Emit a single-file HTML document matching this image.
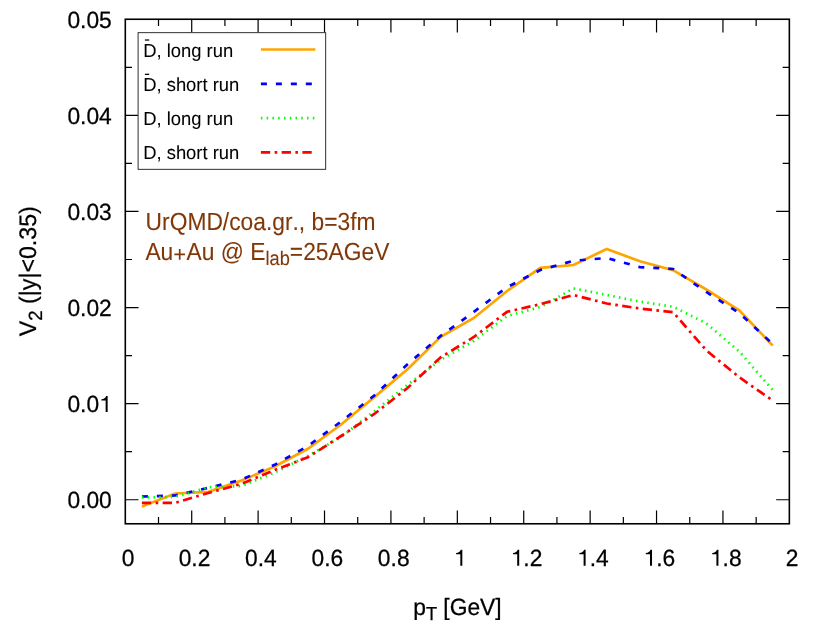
<!DOCTYPE html>
<html><head><meta charset="utf-8"><title>v2 vs pT</title>
<style>
html,body{margin:0;padding:0;background:#fff;}
body{width:830px;height:623px;overflow:hidden;}
svg{display:block;will-change:transform;transform:translateZ(0);}
text{font-family:"Liberation Sans",sans-serif;font-kerning:none;text-rendering:geometricPrecision;stroke-width:0.25px;}
</style></head><body>
<svg width="830" height="623" viewBox="0 0 830 623">
<rect x="0" y="0" width="830" height="623" fill="#ffffff"/>
<g stroke="#000" stroke-width="1.2" fill="none">
<path d="M158.50,523.78V517.08M158.50,19.25V25.95"/>
<path d="M191.71,523.78V510.58M191.71,19.25V32.45"/>
<path d="M224.91,523.78V517.08M224.91,19.25V25.95"/>
<path d="M258.11,523.78V510.58M258.11,19.25V32.45"/>
<path d="M291.31,523.78V517.08M291.31,19.25V25.95"/>
<path d="M324.52,523.78V510.58M324.52,19.25V32.45"/>
<path d="M357.72,523.78V517.08M357.72,19.25V25.95"/>
<path d="M390.92,523.78V510.58M390.92,19.25V32.45"/>
<path d="M424.12,523.78V517.08M424.12,19.25V25.95"/>
<path d="M457.33,523.78V510.58M457.33,19.25V32.45"/>
<path d="M490.53,523.78V517.08M490.53,19.25V25.95"/>
<path d="M523.73,523.78V510.58M523.73,19.25V32.45"/>
<path d="M556.93,523.78V517.08M556.93,19.25V25.95"/>
<path d="M590.14,523.78V510.58M590.14,19.25V32.45"/>
<path d="M623.34,523.78V517.08M623.34,19.25V25.95"/>
<path d="M656.54,523.78V510.58M656.54,19.25V32.45"/>
<path d="M689.74,523.78V517.08M689.74,19.25V25.95"/>
<path d="M722.95,523.78V510.58M722.95,19.25V32.45"/>
<path d="M756.15,523.78V517.08M756.15,19.25V25.95"/>
<path d="M125.3,499.75H138.50M789.35,499.75H776.15"/>
<path d="M125.3,451.70H132.00M789.35,451.70H782.65"/>
<path d="M125.3,403.65H138.50M789.35,403.65H776.15"/>
<path d="M125.3,355.60H132.00M789.35,355.60H782.65"/>
<path d="M125.3,307.55H138.50M789.35,307.55H776.15"/>
<path d="M125.3,259.50H132.00M789.35,259.50H782.65"/>
<path d="M125.3,211.45H138.50M789.35,211.45H776.15"/>
<path d="M125.3,163.40H132.00M789.35,163.40H782.65"/>
<path d="M125.3,115.35H138.50M789.35,115.35H776.15"/>
<path d="M125.3,67.30H132.00M789.35,67.30H782.65"/>
</g>
<g fill="none" stroke-width="2.7" stroke-linejoin="miter" stroke-linecap="butt">
<polyline stroke="#ffa500" points="141.9,506.5 175.1,493.5 208.3,491.8 241.5,480.5 274.7,466.5 307.9,448.8 341.1,424.5 374.3,397.1 407.5,369.2 440.7,336.8 473.9,318.0 507.1,291.0 540.3,267.8 573.5,265.0 606.7,249.0 639.9,261.2 673.1,270.2 706.3,289.5 739.5,310.5 772.7,345.6"/>
<polyline stroke="#0000ff" stroke-dasharray="6 8.975" points="141.9,496.5 175.1,495.5 208.3,487.8 241.5,479.7 274.7,464.8 307.9,446.0 341.1,421.5 374.3,395.5 407.5,364.3 440.7,335.9 473.9,311.8 507.1,287.2 540.3,270.0 573.5,260.8 606.7,258.0 639.9,267.1 673.1,269.0 706.3,292.0 739.5,313.3 772.7,344.0"/>
<polyline stroke="#00ff00" stroke-dasharray="1.5 4.27" points="141.9,497.5 175.1,496.9 208.3,487.3 241.5,486.0 274.7,472.5 307.9,456.0 341.1,437.0 374.3,411.2 407.5,384.8 440.7,359.8 473.9,340.8 507.1,316.0 540.3,307.0 573.5,288.4 606.7,295.0 639.9,301.6 673.1,306.7 706.3,323.3 739.5,351.7 772.7,390.0"/>
<polyline stroke="#ff0000" stroke-dasharray="9.3 4.42 2.6 4.43" points="141.9,502.8 175.1,502.8 208.3,493.0 241.5,483.8 274.7,470.0 307.9,457.3 341.1,436.0 374.3,414.0 407.5,388.0 440.7,357.3 473.9,337.0 507.1,311.8 540.3,304.2 573.5,295.0 606.7,303.5 639.9,308.5 673.1,312.2 706.3,350.4 739.5,377.4 772.7,400.6"/>
</g>
<rect x="138.1" y="32.65" width="187.55" height="136.70" fill="#fff" stroke="#303030" stroke-width="1.0"/>
<g fill="none" stroke-width="2.7" stroke-linecap="butt">
<path stroke="#ffa500" d="M260.9,49.5H315.4"/>
<path stroke="#0000ff" stroke-dasharray="6 8.975" d="M260.9,83.85H315.4"/>
<path stroke="#00ff00" stroke-dasharray="1.5 4.27" d="M260.9,118.1H315.4"/>
<path stroke="#ff0000" stroke-dasharray="9.3 4.42 2.6 4.43" d="M260.9,152.45H315.4"/>
</g>
<g fill="#000" stroke="#000" stroke-width="0.25">
<text transform="translate(143.20,56.50) scale(1,1.027)" font-size="18.4" style="stroke-width:0.05px">D, long run</text>
<text transform="translate(143.20,90.80) scale(1,1.027)" font-size="18.4" style="stroke-width:0.05px">D, short run</text>
<text transform="translate(143.20,124.90) scale(1,1.027)" font-size="18.4" style="stroke-width:0.05px">D, long run</text>
<text transform="translate(143.20,159.40) scale(1,1.027)" font-size="18.4" style="stroke-width:0.05px">D, short run</text>
<rect x="144.9" y="39.40" width="4.3" height="1.25" stroke="none"/>
<rect x="144.9" y="73.70" width="4.3" height="1.25" stroke="none"/>
</g>
<rect x="125.3" y="19.25" width="664.05" height="504.53" fill="none" stroke="#000" stroke-width="1.6"/>
<g fill="#000" stroke="#000" stroke-width="0.25">
<text transform="translate(67.43,508.20) scale(1,1.03)" font-size="22.8">0.00</text>
<text transform="translate(67.43,412.10) scale(1,1.03)" font-size="22.8">0.0<tspan visibility="hidden">1</tspan></text><path d="M101,508V567C219,582 263,611 309,709H374V0H286V508Z" transform="translate(99.12,412.10) scale(0.02280,-0.02280)"/>
<text transform="translate(67.43,316.00) scale(1,1.03)" font-size="22.8">0.02</text>
<text transform="translate(67.43,219.90) scale(1,1.03)" font-size="22.8">0.03</text>
<text transform="translate(67.43,123.80) scale(1,1.03)" font-size="22.8">0.04</text>
<text transform="translate(67.43,27.70) scale(1,1.03)" font-size="22.8">0.05</text>
<text transform="translate(121.76,565.85) scale(1,1.03)" font-size="22.8">0</text>
<text transform="translate(178.66,565.85) scale(1,1.03)" font-size="22.8">0.2</text>
<text transform="translate(245.06,565.85) scale(1,1.03)" font-size="22.8">0.4</text>
<text transform="translate(311.47,565.85) scale(1,1.03)" font-size="22.8">0.6</text>
<text transform="translate(377.87,565.85) scale(1,1.03)" font-size="22.8">0.8</text>
<text transform="translate(453.79,565.85) scale(1,1.03)" font-size="22.8"><tspan visibility="hidden">1</tspan></text><path d="M101,508V567C219,582 263,611 309,709H374V0H286V508Z" transform="translate(453.79,565.85) scale(0.02280,-0.02280)"/>
<text transform="translate(510.68,565.85) scale(1,1.03)" font-size="22.8"><tspan visibility="hidden">1</tspan>.2</text><path d="M101,508V567C219,582 263,611 309,709H374V0H286V508Z" transform="translate(510.68,565.85) scale(0.02280,-0.02280)"/>
<text transform="translate(577.09,565.85) scale(1,1.03)" font-size="22.8"><tspan visibility="hidden">1</tspan>.4</text><path d="M101,508V567C219,582 263,611 309,709H374V0H286V508Z" transform="translate(577.09,565.85) scale(0.02280,-0.02280)"/>
<text transform="translate(643.49,565.85) scale(1,1.03)" font-size="22.8"><tspan visibility="hidden">1</tspan>.6</text><path d="M101,508V567C219,582 263,611 309,709H374V0H286V508Z" transform="translate(643.49,565.85) scale(0.02280,-0.02280)"/>
<text transform="translate(709.90,565.85) scale(1,1.03)" font-size="22.8"><tspan visibility="hidden">1</tspan>.8</text><path d="M101,508V567C219,582 263,611 309,709H374V0H286V508Z" transform="translate(709.90,565.85) scale(0.02280,-0.02280)"/>
<text transform="translate(785.81,565.85) scale(1,1.03)" font-size="22.8">2</text>
</g>
<text transform="translate(145.60,229.80) scale(1,1.085)" font-size="22.8" fill="#803808" stroke="#803808" style="stroke-width:0.08px">UrQMD/coa.gr., b=3fm</text>
<text transform="translate(145.40,259.90) scale(1,1.085)" font-size="22.8" fill="#803808" stroke="#803808" style="stroke-width:0.08px">Au<tspan visibility="hidden">+</tspan>Au @ E<tspan font-size="18.24" dy="4.98">lab</tspan><tspan dy="-4.98">=25AGeV</tspan></text>
<path fill="#803808" d="M174.4,253.55h10.6v1.7h-10.6zM178.85,249.0h1.7v10.7h-1.7z"/>
<text transform="translate(413.20,615.00) scale(1,1.03)" font-size="22.8" fill="#000" stroke="#000">p<tspan font-size="18.24" dy="5.24">T</tspan><tspan dy="-5.24"> [GeV]</tspan></text>
<text transform="translate(36.20,336.20) rotate(-90) scale(1,1.03)" font-size="23.2" fill="#000" stroke="#000">V<tspan font-size="18.56" dy="5.24">2</tspan><tspan dy="-5.24"> (|y|&lt;0.35)</tspan></text>
</svg>
</body></html>
